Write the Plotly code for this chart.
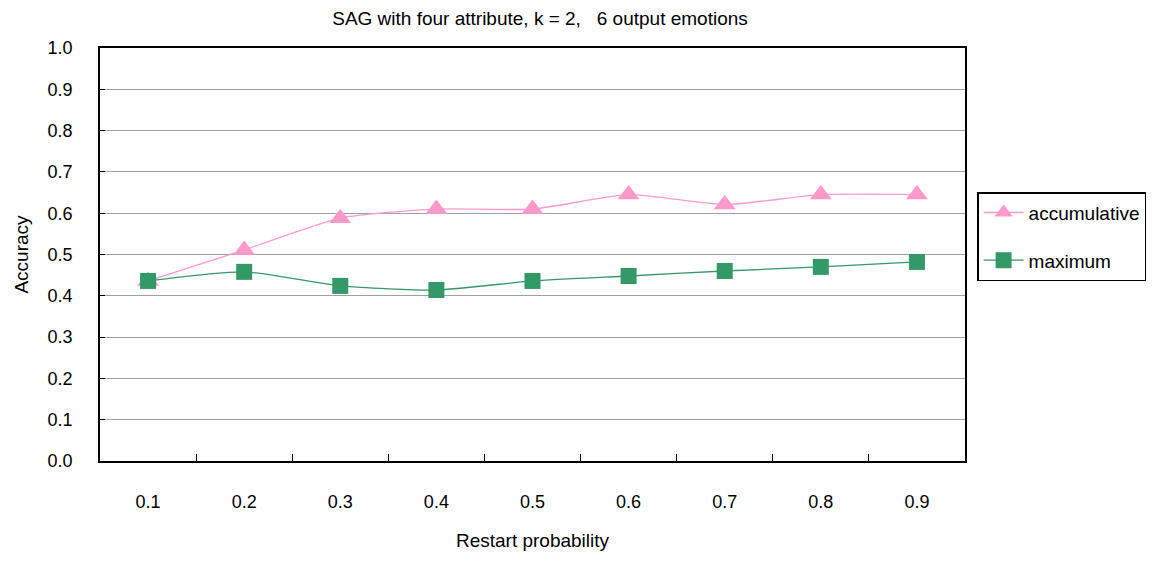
import plotly.graph_objects as go

categories = ["0.1", "0.2", "0.3", "0.4", "0.5", "0.6", "0.7", "0.8", "0.9"]
accumulative = [0.436, 0.511, 0.588, 0.610, 0.610, 0.645, 0.621, 0.645, 0.645]
maximum = [0.436, 0.458, 0.424, 0.414, 0.436, 0.448, 0.460, 0.470, 0.482]
y_ticks = [0.0, 0.1, 0.2, 0.3, 0.4, 0.5, 0.6, 0.7, 0.8, 0.9, 1.0]

FONT = "Liberation Sans, Arial, sans-serif"

fig = go.Figure()
fig.add_trace(go.Scatter(
    x=categories, y=accumulative, name="accumulative", legendgroup="a",
    mode="lines+markers",
    line=dict(color="#ff99cc", width=1.3, shape="spline", smoothing=0.6),
    marker=dict(symbol="triangle-up", size=19, color="#ff99cc"),
))
fig.add_trace(go.Scatter(
    x=categories, y=maximum, name="maximum", legendgroup="b",
    mode="lines+markers",
    line=dict(color="#339966", width=1.3, shape="spline", smoothing=0.6),
    marker=dict(symbol="square", size=16, color="#339966"),
))

fig.update_layout(
    width=1158, height=561,
    margin=dict(l=100, r=191, t=48, b=100),
    paper_bgcolor="white", plot_bgcolor="white",
    font=dict(family=FONT, size=18, color="black"),
    title=dict(text="SAG with four attribute, k = 2,   6 output emotions",
               x=540 / 1158, xanchor="center", y=1 - 18 / 561, yanchor="middle",
               font=dict(size=19)),
    legend=dict(x=1.014, y=0.651, xanchor="left", yanchor="top",
                bordercolor="black", borderwidth=1.5, bgcolor="white",
                font=dict(size=19), tracegroupgap=20, itemwidth=40),
    showlegend=True,
)
fig.update_xaxes(
    type="category", range=[-0.5, 8.5],
    showline=True, linecolor="black", linewidth=1.5, mirror=True,
    ticks="inside", tickson="boundaries", ticklen=7, tickcolor="black",
    showgrid=False, ticklabelstandoff=24,
    title=dict(text="Restart probability", standoff=22, font=dict(size=19)),
)
fig.update_yaxes(
    range=[0, 1.0], tickvals=y_ticks, ticktext=[f"{v:.1f}" for v in y_ticks],
    showline=True, linecolor="black", linewidth=1.5, mirror=True,
    showgrid=True, gridcolor="#a0a0a0", gridwidth=1,
    ticks="inside", ticklen=5, tickcolor="black", ticklabelstandoff=22,
    title=dict(text="Accuracy", standoff=14, font=dict(size=19)),
    zeroline=False,
)

fig.write_html("out.html")
